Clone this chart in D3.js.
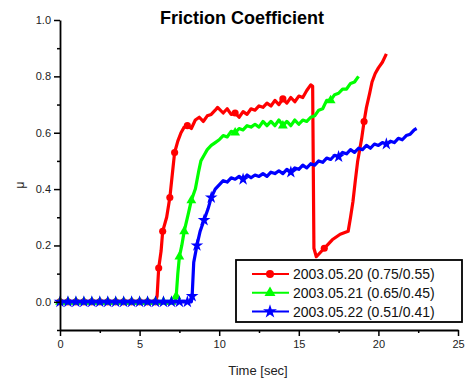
<!DOCTYPE html>
<html>
<head>
<meta charset="utf-8">
<script src="https://cdn.jsdelivr.net/npm/d3@7"></script>
<style>
  body { margin: 0; background: #fff; }
  svg { font-family: "Liberation Sans", Arial, sans-serif; }
</style>
</head>
<body>
<div id="chart"></div>
<script>
// friction coefficient vs time
const red = [
  [0,0],[0.25,0],[0.5,0],[0.75,0],[1,0],[1.25,0],[1.5,0],[1.75,0],[2,0],[2.25,0],[2.5,0],[2.75,0],
  [3,0],[3.25,0],[3.5,0],[3.75,0],[4,0],[4.25,0],[4.5,0],[4.75,0],[5,0],[5.25,0],[5.5,0],[5.75,0],[6,0],
  [6.1,0.02],[6.2,0.12],[6.35,0.18],[6.45,0.25],[6.7,0.30],[6.9,0.37],[7.05,0.45],[7.2,0.53],
  [7.4,0.57],[7.6,0.60],[7.8,0.62],[8.0,0.625],[8.25,0.615],[8.5,0.645],[8.75,0.655],[9.0,0.64],
  [9.25,0.66],[9.5,0.665],[9.75,0.68],[9.9,0.69],[10.25,0.67],[10.5,0.685],[10.75,0.665],[11.0,0.67],
  [11.25,0.655],[11.5,0.675],[11.75,0.665],[12.0,0.685],[12.25,0.68],[12.5,0.695],[12.75,0.69],
  [13.0,0.705],[13.25,0.695],[13.5,0.715],[13.75,0.70],[14.0,0.72],[14.25,0.705],[14.5,0.725],
  [14.75,0.71],[15.0,0.73],[15.25,0.725],[15.5,0.75],[15.75,0.77],[15.87,0.765],[15.95,0.19],
  [16.1,0.16],[16.35,0.175],[16.6,0.19],[16.85,0.205],[17.1,0.22],[17.35,0.23],[17.6,0.24],
  [17.85,0.245],[18.1,0.25],[18.25,0.30],[18.4,0.355],[18.55,0.43],[18.7,0.50],[18.95,0.58],
  [19.1,0.64],[19.25,0.69],[19.45,0.74],[19.6,0.78],[19.8,0.81],[20.0,0.83],[20.25,0.85],[20.5,0.88]
];
const green = [
  [0,0],[0.25,0],[0.5,0],[0.75,0],[1,0],[1.25,0],[1.5,0],[1.75,0],[2,0],[2.25,0],[2.5,0],[2.75,0],
  [3,0],[3.25,0],[3.5,0],[3.75,0],[4,0],[4.25,0],[4.5,0],[4.75,0],[5,0],[5.25,0],[5.5,0],[5.75,0],
  [6,0],[6.25,0],[6.5,0],[6.75,0],[7,0],[7.25,0],
  [7.3,0.02],[7.4,0.10],[7.5,0.16],[7.65,0.20],[7.8,0.25],[8.05,0.31],[8.25,0.36],[8.5,0.40],
  [8.7,0.46],[8.85,0.50],[9.05,0.52],[9.25,0.54],[9.5,0.555],[9.75,0.565],[10.0,0.575],
  [10.25,0.59],[10.5,0.585],[10.75,0.605],[11.0,0.60],[11.25,0.615],[11.5,0.61],[11.75,0.625],
  [12.0,0.62],[12.25,0.63],[12.5,0.62],[12.75,0.64],[13.0,0.625],[13.25,0.64],[13.5,0.625],
  [13.75,0.645],[14.0,0.625],[14.25,0.64],[14.5,0.625],[14.75,0.645],[15.0,0.63],[15.25,0.645],
  [15.5,0.64],[15.75,0.655],[16.0,0.66],[16.25,0.68],[16.5,0.685],[16.75,0.715],[17.0,0.715],
  [17.25,0.735],[17.5,0.74],[17.75,0.755],[18.0,0.755],[18.25,0.775],[18.5,0.78],[18.75,0.80]
];
const blue = [
  [0,0],[0.25,0],[0.5,0],[0.75,0],[1,0],[1.25,0],[1.5,0],[1.75,0],[2,0],[2.25,0],[2.5,0],[2.75,0],
  [3,0],[3.25,0],[3.5,0],[3.75,0],[4,0],[4.25,0],[4.5,0],[4.75,0],[5,0],[5.25,0],[5.5,0],[5.75,0],
  [6,0],[6.25,0],[6.5,0],[6.75,0],[7,0],[7.25,0],[7.5,0],[7.75,0],[8,0],[8.25,0],
  [8.3,0.02],[8.4,0.14],[8.6,0.20],[8.8,0.25],[9.05,0.29],[9.3,0.33],[9.5,0.37],[9.75,0.40],
  [10.0,0.415],[10.25,0.43],[10.5,0.425],[10.75,0.44],[11.0,0.435],[11.25,0.445],[11.5,0.435],
  [11.75,0.45],[12.0,0.44],[12.25,0.45],[12.5,0.445],[12.75,0.455],[13.0,0.445],[13.25,0.46],
  [13.5,0.455],[13.75,0.465],[14.0,0.455],[14.25,0.47],[14.5,0.46],[14.75,0.475],[15.0,0.47],
  [15.25,0.485],[15.5,0.475],[15.75,0.49],[16.0,0.485],[16.25,0.50],[16.5,0.495],[16.75,0.51],
  [17.0,0.505],[17.25,0.52],[17.5,0.515],[17.75,0.53],[18.0,0.525],[18.25,0.54],[18.5,0.53],
  [18.75,0.545],[19.0,0.54],[19.25,0.555],[19.5,0.545],[19.75,0.56],[20.0,0.555],[20.25,0.565],
  [20.5,0.56],[20.75,0.57],[21.0,0.565],[21.25,0.58],[21.5,0.575],[21.75,0.59],[22.0,0.595],
  [22.25,0.61],[22.4,0.615]
];
const seriesNames = ["2003.05.20 (0.75/0.55)", "2003.05.21 (0.65/0.45)", "2003.05.22 (0.51/0.41)"];
// time after which each curve is on its noisy plateau (markers get sparse there)
const riseEnd = [7.3, 8.6, 9.8];
const xTicks = [0, 5, 10, 15, 20, 25];
const xMinor = [2.5, 7.5, 12.5, 17.5, 22.5];
const yTicks = [0, 0.2, 0.4, 0.6, 0.8, 1.0];
const yMinor = [-0.1, 0.1, 0.3, 0.5, 0.7, 0.9];

const width = 466;
const height = 380;

const svg = d3.select("#chart")
  .append("svg")
  .attr("width", width)
  .attr("height", height);

const x = d3.scaleLinear()
  .domain([0, 25])
  .range([60, 458]);

const y = d3.scaleLinear()
  .domain([-0.1, 1.0])
  .range([330, 20]);

const series = [
  { name: seriesNames[0], data: red, color: "#ff0000", symbol: d3.symbolCircle, size: 40, end: riseEnd[0] },
  { name: seriesNames[1], data: green, color: "#00ff00", symbol: d3.symbolTriangle, size: 42, end: riseEnd[1] },
  { name: seriesNames[2], data: blue, color: "#0000ff", symbol: d3.symbolStar, size: 50, end: riseEnd[2] }
];

const line = d3.line()
  .x(d => x(d[0]))
  .y(d => y(d[1]));

series.forEach(s => {
  svg.append("path")
    .datum(s.data)
    .attr("fill", "none")
    .attr("stroke", s.color)
    .attr("stroke-width", 3.2)
    .attr("stroke-linejoin", "round")
    .attr("d", line);

  svg.append("g")
    .selectAll("path")
    .data(s.data.filter((d, i) => d[0] <= s.end ? i % 2 === 0 : i % 12 === 0))
    .join("path")
    .attr("transform", d => `translate(${x(d[0])},${y(d[1])})`)
    .attr("d", d3.symbol(s.symbol, s.size))
    .attr("fill", s.color);
});

// axes
svg.append("g")
  .attr("transform", "translate(0,330)")
  .call(d3.axisBottom(x).tickValues(xTicks).tickSize(6).tickSizeOuter(0).tickPadding(4));
svg.append("g")
  .attr("transform", "translate(0,330)")
  .call(d3.axisBottom(x).tickValues(xMinor).tickSize(3).tickFormat(""))
  .select(".domain").remove();

svg.append("g")
  .attr("transform", "translate(60,0)")
  .call(d3.axisLeft(y).tickValues(yTicks).tickSize(6).tickSizeOuter(0).tickPadding(3)
    .tickFormat(d3.format(".1f")));
svg.append("g")
  .attr("transform", "translate(60,0)")
  .call(d3.axisLeft(y).tickValues(yMinor).tickSize(3).tickFormat(""))
  .select(".domain").remove();

svg.selectAll(".domain").attr("stroke-width", 1.8);
svg.selectAll(".tick line").attr("stroke-width", 1.5);
svg.selectAll(".tick text")
  .attr("font-size", 11)
  .attr("font-family", "Liberation Sans, Arial, sans-serif")
  .attr("fill", "#222");

// title and axis labels
svg.append("text")
  .attr("x", 242)
  .attr("y", 24)
  .attr("text-anchor", "middle")
  .attr("font-size", 18)
  .attr("font-weight", "bold")
  .text("Friction Coefficient");

svg.append("text")
  .attr("x", 258)
  .attr("y", 375)
  .attr("text-anchor", "middle")
  .attr("font-size", 13)
  .attr("fill", "#222")
  .text("Time [sec]");

svg.append("text")
  .attr("transform", "translate(24,185) rotate(-90)")
  .attr("text-anchor", "middle")
  .attr("font-size", 12)
  .attr("fill", "#222")
  .text("μ");

// legend
const legend = svg.append("g");
legend.append("rect")
  .attr("x", 236)
  .attr("y", 260)
  .attr("width", 226)
  .attr("height", 62)
  .attr("fill", "#fff")
  .attr("stroke", "#000")
  .attr("stroke-width", 1.8);

series.forEach((s, i) => {
  const ly = 274 + i * 18.8;
  legend.append("line")
    .attr("x1", 252).attr("x2", 289)
    .attr("y1", ly).attr("y2", ly)
    .attr("stroke", s.color)
    .attr("stroke-width", 2);
  legend.append("path")
    .attr("transform", `translate(270,${ly})`)
    .attr("d", d3.symbol(s.symbol, s.size + 10))
    .attr("fill", s.color);
  legend.append("text")
    .attr("x", 293)
    .attr("y", ly + 5)
    .attr("font-size", 14)
    .attr("fill", "#111")
    .text(s.name);
});
</script>
</body>
</html>
